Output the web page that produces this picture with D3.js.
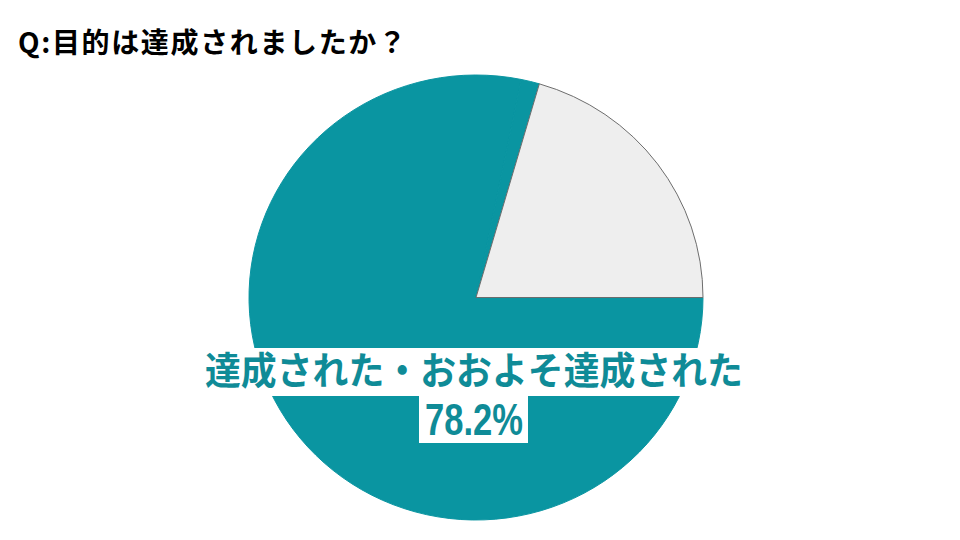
<!DOCTYPE html>
<html>
<head>
<meta charset="utf-8">
<script src="https://cdn.jsdelivr.net/npm/d3@7"></script>
<style>
  html, body { margin: 0; padding: 0; background: #fff; }
  svg { display: block; }
</style>
</head>
<body>
<svg id="pie" width="960" height="540"></svg>
<script>
const title = "Q:目的は達成されましたか？";
// slice order is clockwise from 3 o'clock
const categories = ["達成された・おおよそ達成された", "無回答", "あまり達成されなかった・達成されなかった"];
const values = [78.2, 1.3, 20.5];
const colors = ["#0a95a1", "#0a95a1", "#eeeeee"];

const svg = d3.select("#pie");
const cx = 476, cy = 297.5;
const rx = 227, ry = 222.5;

svg.append("text")
  .attr("x", 18)
  .attr("y", 53)
  .attr("font-family", "'Noto Sans CJK JP', sans-serif")
  .attr("font-size", "28px")
  .attr("font-weight", "bold")
  .attr("fill", "#000")
  .attr("textLength", 388)
  .attr("lengthAdjust", "spacing")
  .text(title);

const data = categories.map((c, i) => ({ name: c, value: values[i], color: colors[i] }));

const pie = d3.pie()
  .value(d => d.value)
  .sort(null)
  .startAngle(Math.PI / 2)
  .endAngle(Math.PI / 2 + 2 * Math.PI);

const arc = d3.arc().innerRadius(0).outerRadius(rx);

const g = svg.append("g")
  .attr("transform", `translate(${cx}, ${cy}) scale(1, ${ry / rx})`);

g.selectAll("path")
  .data(pie(data))
  .join("path")
  .attr("d", arc)
  .attr("fill", d => d.data.color)
  .attr("stroke", d => d.data.color === "#eeeeee" ? "#6b6b6b" : d.data.color)
  .attr("stroke-width", 1);

// label for the main slice
const label = svg.append("g");

label.append("rect")
  .attr("x", 203)
  .attr("y", 348)
  .attr("width", 544)
  .attr("height", 48)
  .attr("fill", "#fff");

label.append("text")
  .attr("x", 205)
  .attr("y", 384)
  .attr("font-family", "'Noto Sans CJK JP', sans-serif")
  .attr("font-size", "38px")
  .attr("font-weight", "bold")
  .attr("fill", "#0f8b97")
  .attr("textLength", 538)
  .attr("lengthAdjust", "spacingAndGlyphs")
  .text(categories[0]);

label.append("rect")
  .attr("x", 419)
  .attr("y", 396)
  .attr("width", 109)
  .attr("height", 47)
  .attr("fill", "#fff");

label.append("text")
  .attr("x", 425)
  .attr("y", 435)
  .attr("font-family", "'Liberation Sans', Arial, sans-serif")
  .attr("font-size", "44px")
  .attr("font-weight", "bold")
  .attr("fill", "#0f8b97")
  .attr("textLength", 98)
  .attr("lengthAdjust", "spacingAndGlyphs")
  .text(values[0].toFixed(1) + "%");
</script>
</body>
</html>
